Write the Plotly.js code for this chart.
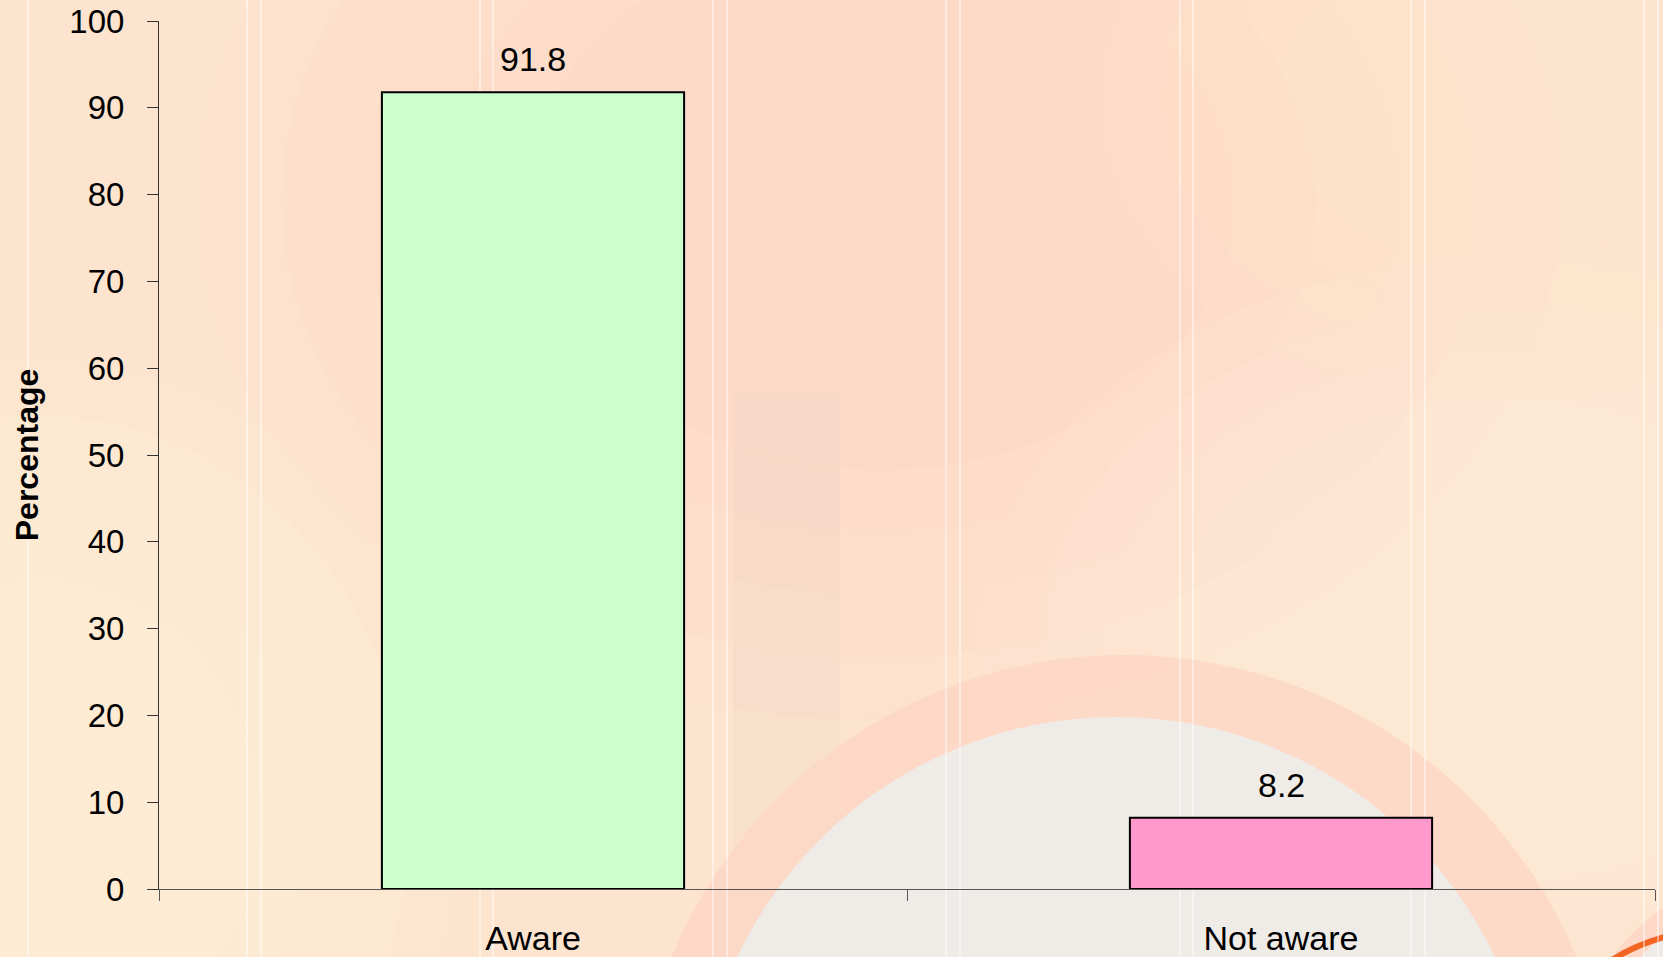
<!DOCTYPE html>
<html>
<head>
<meta charset="utf-8">
<script src="https://cdn.plot.ly/plotly-3.0.1.min.js"></script>
<style>
  html, body { margin: 0; padding: 0; background: #fde4cf; }
  #chart { width: 1663px; height: 957px; }
</style>
</head>
<body>
<div id="chart"></div>
<script>
// ---- data ----
var categories = ["Aware", "Not aware"];
var values = [91.8, 8.2];
var valueLabels = ["91.8", "8.2"];
var barColors = ["#ccffcc", "#ff99cc"];
var yTickValues = [0, 10, 20, 30, 40, 50, 60, 70, 80, 90, 100];
var yTitle = "Percentage";

// ---- layout helpers (pixel -> paper for background decoration) ----
var W = 1663, H = 957;
var M = { l: 159, r: 8, t: 21, b: 68 };
var PW = W - M.l - M.r, PH = H - M.t - M.b;
function px(x) { return (x - M.l) / PW; }
function py(y) { return (H - M.b - y) / PH; }

function circleShape(x0, y0, x1, y1, color, opacity) {
  return { type: "circle", xref: "paper", yref: "paper", layer: "below",
    x0: px(x0), x1: px(x1), y0: py(y1), y1: py(y0),
    fillcolor: color, opacity: opacity, line: { width: 0 } };
}
function rectShape(x0, y0, x1, y1, color, opacity) {
  return { type: "rect", xref: "paper", yref: "paper", layer: "below",
    x0: px(x0), x1: px(x1), y0: py(y1), y1: py(y0),
    fillcolor: color, opacity: opacity, line: { width: 0 } };
}
// soft blob: stacked concentric circles with small opacity
function softBlob(cx, cy, rx, ry, color, steps, op) {
  for (var k = 0; k < steps; k++) {
    var f = 1 - 0.6 * k / steps;
    shapes.push(circleShape(cx - rx * f, cy - ry * f, cx + rx * f, cy + ry * f, color, op));
  }
}

var shapes = [];
softBlob(880, 200, 680, 520, "#f9d0bf", 5, 0.08);
softBlob(40, 820, 420, 460, "#fff3e2", 5, 0.12);
softBlob(1500, 640, 520, 380, "#fff2dc", 5, 0.12);
softBlob(1500, 100, 400, 300, "#fdebd0", 4, 0.1);
shapes.push(rectShape(733, 393, 840, 957, "#e6d3c0", 0.22));
// big ring and inner grey disc
shapes.push(circleShape(1124 - 490, 1145 - 490, 1124 + 490, 1145 + 490, "#fdd6c5", 0.85));
shapes.push(circleShape(1116 - 419, 1136 - 419, 1116 + 419, 1136 + 419, "#efebe7", 1));
// small ring bottom right
shapes.push(circleShape(1760 - 180, 1060 - 180, 1760 + 180, 1060 + 180, "#fdd6c5", 0.9));
shapes.push(circleShape(1762 - 160, 1062 - 160, 1762 + 160, 1062 + 160, "#efebe7", 1));
shapes.push({ type: "path", xref: "paper", yref: "paper", layer: "below",
  path: "M " + px(1612) + "," + py(960) + " Q " + px(1635) + "," + py(945) + " " + px(1668) + "," + py(936),
  line: { color: "#f26522", width: 6 } });
// faint white vertical stripes
var stripeX = [28, 247, 261, 480, 493, 713, 727, 946, 960, 1180, 1193, 1411, 1425, 1644, 1658];
stripeX.forEach(function (x) {
  shapes.push({ type: "line", xref: "paper", yref: "paper", layer: "below",
    x0: px(x), x1: px(x), y0: py(H), y1: py(0),
    line: { color: "rgba(255,255,255,0.6)", width: 1.5 } });
});

var font = "Arial, 'Liberation Sans', sans-serif";

var trace = {
  type: "bar",
  x: categories,
  y: values,
  width: 0.404,
  marker: { color: barColors, line: { color: "#000000", width: 2 } },
  hoverinfo: "x+y",
  cliponaxis: false
};

var annotations = categories.map(function (c, i) {
  return { x: c, y: values[i], xref: "x", yref: "y", text: valueLabels[i],
    showarrow: false, yanchor: "bottom", yshift: 12,
    font: { family: font, size: 34, color: "#000000" } };
});

var layout = {
  width: W, height: H,
  margin: M,
  paper_bgcolor: "#fde4cf",
  plot_bgcolor: "rgba(0,0,0,0)",
  showlegend: false,
  font: { family: font, color: "#000000" },
  shapes: shapes,
  annotations: annotations,
  xaxis: {
    type: "category",
    range: [-0.5, 1.5],
    showgrid: false, zeroline: false,
    showline: true, linecolor: "#555555", linewidth: 1,
    ticks: "outside", tickson: "boundaries", ticklen: 11, tickcolor: "#555555", tickwidth: 1,
    tickfont: { family: font, size: 34, color: "#000000" },
    ticklabelstandoff: 19,
    fixedrange: true
  },
  yaxis: {
    range: [0, 100],
    tickvals: yTickValues,
    showgrid: false, zeroline: false,
    showline: true, linecolor: "#333333", linewidth: 1,
    ticks: "outside", ticklen: 11, tickcolor: "#333333", tickwidth: 1,
    tickfont: { family: font, size: 33, color: "#000000" },
    ticklabelstandoff: 16,
    title: { text: yTitle, font: { family: font, size: 32, weight: 700, color: "#000000" }, standoff: 21 },
    automargin: false,
    fixedrange: true
  }
};

Plotly.newPlot("chart", [trace], layout, { displayModeBar: false, staticPlot: true });
</script>
</body>
</html>
